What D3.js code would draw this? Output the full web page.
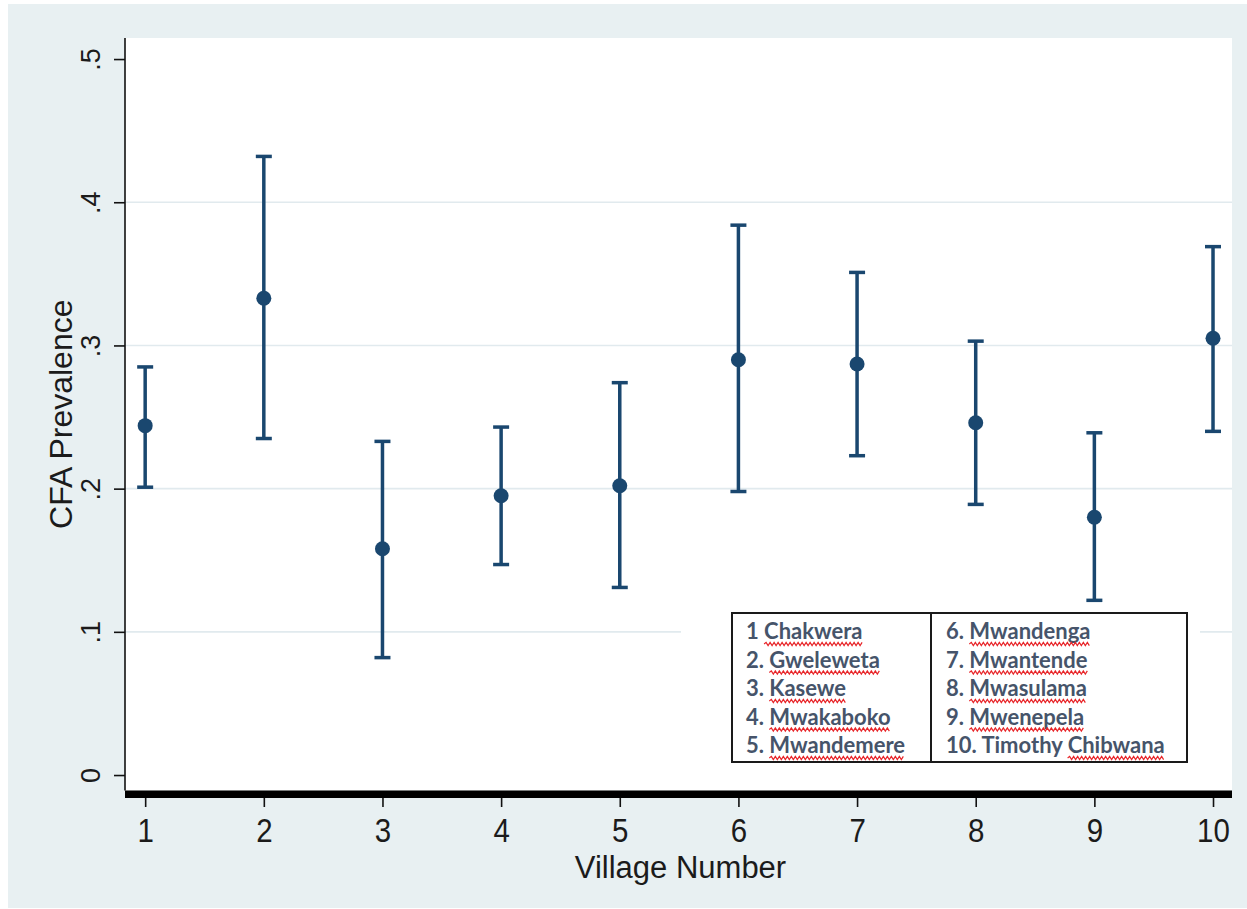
<!DOCTYPE html>
<html>
<head>
<meta charset="utf-8">
<script src="https://cdn.jsdelivr.net/npm/d3@7"></script>
<style>
  html, body { margin: 0; padding: 0; background: #ffffff; }
  svg { display: block; }
</style>
</head>
<body>
<svg id="chart" width="1247" height="909"></svg>
<script>
// Village numbers, CFA prevalence point estimates and 95% CI bounds
const villages = [1, 2, 3, 4, 5, 6, 7, 8, 9, 10];
const prevalence = [0.244, 0.333, 0.158, 0.195, 0.202, 0.290, 0.287, 0.246, 0.180, 0.305];
const ciLower = [0.201, 0.235, 0.082, 0.147, 0.131, 0.198, 0.223, 0.189, 0.122, 0.240];
const ciUpper = [0.285, 0.432, 0.233, 0.243, 0.274, 0.384, 0.351, 0.303, 0.239, 0.369];

// Axis ticks and labels
const yTicks = [0, 0.1, 0.2, 0.3, 0.4, 0.5];
const yTickLabels = ["0", ".1", ".2", ".3", ".4", ".5"];
const xTicks = villages;

// Key: village numbers and names
const keyNumbers = ["1", "2.", "3.", "4.", "5.", "6.", "7.", "8.", "9.", "10."];
const keyNames = ["Chakwera", "Gweleweta", "Kasewe", "Mwakaboko", "Mwandemere",
                  "Mwandenga", "Mwantende", "Mwasulama", "Mwenepela", "Timothy Chibwana"];
const keyUnderlined = ["Chakwera", "Gweleweta", "Kasewe", "Mwakaboko", "Mwandemere",
                       "Mwandenga", "Mwantende", "Mwasulama", "Mwenepela", "Chibwana"];

const svg = d3.select("#chart");
const navy = "#1a476f";

// Graph region background
svg.append("rect").attr("x", 8).attr("y", 4).attr("width", 1239).attr("height", 904)
  .attr("fill", "#e8f0f2");

const plot = { left: 125, right: 1232, top: 38, bottom: 790.5 };

svg.append("rect").attr("x", plot.left).attr("y", plot.top)
  .attr("width", plot.right - plot.left).attr("height", plot.bottom - plot.top)
  .attr("fill", "#ffffff");

const x = d3.scaleLinear().domain([0.83, 10.16]).range([plot.left, plot.right]);
const y = d3.scaleLinear().domain([-0.0108, 0.5147]).range([plot.bottom, plot.top]);

// Horizontal gridlines
svg.append("g").selectAll("line").data(yTicks.filter(v => v > 0 && v < 0.5)).join("line")
  .attr("x1", plot.left).attr("x2", plot.right)
  .attr("y1", d => y(d)).attr("y2", d => y(d))
  .attr("stroke", "#e1eaee").attr("stroke-width", 1.6);

// Y axis
const yAxis = d3.axisLeft(y).tickValues(yTicks).tickSize(11)
  .tickFormat((d, i) => yTickLabels[i]);
const gy = svg.append("g").attr("transform", `translate(${plot.left},0)`).call(yAxis);
gy.select(".domain").attr("d", `M0,${plot.top}V${plot.bottom}`)
  .attr("stroke", "#111").attr("stroke-width", 1.6);
gy.selectAll(".tick line").attr("stroke", "#111").attr("stroke-width", 1.6);
gy.selectAll(".tick text")
  .attr("x", null).attr("dy", null)
  .attr("transform", "translate(-25,0) rotate(-90)")
  .attr("text-anchor", "middle")
  .attr("font-family", "Liberation Sans, Arial, sans-serif")
  .attr("font-size", 27).attr("fill", "#1b1b1b");

// X axis
const xAxis = d3.axisBottom(x).tickValues(xTicks).tickSize(9).tickFormat(d3.format("d"));
const gx = svg.append("g").attr("transform", `translate(0,${plot.bottom + 7.5})`).call(xAxis);
gx.select(".domain").remove();
gx.selectAll(".tick line").attr("stroke", "#111").attr("stroke-width", 1.6);
gx.selectAll(".tick text")
  .attr("y", null).attr("dy", null)
  .attr("transform", "translate(0,44) scale(1,1.15)")
  .attr("font-family", "Liberation Sans, Arial, sans-serif")
  .attr("font-size", 29.5).attr("fill", "#1b1b1b");
// Heavy x axis line
svg.append("rect").attr("x", plot.left).attr("y", plot.bottom)
  .attr("width", plot.right - plot.left).attr("height", 7.5).attr("fill", "#000");

// Axis titles
svg.append("text")
  .attr("transform", `translate(72,${(plot.top + plot.bottom) / 2}) rotate(-90)`)
  .attr("text-anchor", "middle")
  .attr("font-family", "Liberation Sans, Arial, sans-serif")
  .attr("font-size", 32).attr("fill", "#1b1b1b")
  .text("CFA Prevalence");
svg.append("text")
  .attr("x", (plot.left + plot.right) / 2 + 2).attr("y", 878)
  .attr("text-anchor", "middle")
  .attr("font-family", "Liberation Sans, Arial, sans-serif")
  .attr("font-size", 31).attr("fill", "#1b1b1b")
  .text("Village Number");

// Error bars with caps and point markers
const rows = villages.map((v, i) => ({ v, p: prevalence[i], lo: ciLower[i], hi: ciUpper[i] }));
const bars = svg.append("g").attr("stroke", navy).attr("stroke-width", 3.5);
bars.selectAll("line.stem").data(rows).join("line").attr("class", "stem")
  .attr("x1", d => x(d.v)).attr("x2", d => x(d.v))
  .attr("y1", d => y(d.lo)).attr("y2", d => y(d.hi));
bars.selectAll("line.capHi").data(rows).join("line").attr("class", "capHi")
  .attr("x1", d => x(d.v) - 8).attr("x2", d => x(d.v) + 8)
  .attr("y1", d => y(d.hi)).attr("y2", d => y(d.hi));
bars.selectAll("line.capLo").data(rows).join("line").attr("class", "capLo")
  .attr("x1", d => x(d.v) - 8).attr("x2", d => x(d.v) + 8)
  .attr("y1", d => y(d.lo)).attr("y2", d => y(d.lo));
svg.append("g").selectAll("circle").data(rows).join("circle")
  .attr("cx", d => x(d.v)).attr("cy", d => y(d.p)).attr("r", 7.5)
  .attr("fill", navy);

// Key table of village names
const key = svg.append("g");
key.append("rect").attr("x", 681).attr("y", 604).attr("width", 519).attr("height", 180)
  .attr("fill", "#ffffff");
key.append("rect").attr("x", 732).attr("y", 613).attr("width", 455).attr("height", 149)
  .attr("fill", "none").attr("stroke", "#1a1a1a").attr("stroke-width", 2);
key.append("line").attr("x1", 931).attr("x2", 931).attr("y1", 613).attr("y2", 762)
  .attr("stroke", "#1a1a1a").attr("stroke-width", 2);

const colX = [746, 946];
const rowY = [639, 667.5, 696, 724.5, 753];

function wavyPath(x0, x1, yb) {
  const step = 2;
  let d = `M${x0},${yb}`;
  let up = true;
  for (let xx = x0 + step; xx <= x1; xx += step) {
    d += `L${xx},${yb + (up ? -1.6 : 1.6)}`;
    up = !up;
  }
  return d;
}

keyNames.forEach((name, i) => {
  const col = i < 5 ? 0 : 1;
  const row = i % 5;
  const full = keyNumbers[i] + " " + name;
  const t = key.append("text")
    .attr("x", colX[col]).attr("y", rowY[row])
    .attr("font-family", "Lato, 'Open Sans', sans-serif")
    .attr("font-weight", 700)
    .attr("font-size", 22).attr("fill", "#46546a")
    .text(full);
  const under = keyUnderlined[i];
  const start = full.lastIndexOf(under);
  const node = t.node();
  const sx = node.getStartPositionOfChar(start).x;
  const len = node.getSubStringLength(start, under.length);
  key.append("path")
    .attr("d", wavyPath(sx, sx + len, rowY[row] + 5))
    .attr("fill", "none").attr("stroke", "#e8262a").attr("stroke-width", 1.2);
});
</script>
</body>
</html>
